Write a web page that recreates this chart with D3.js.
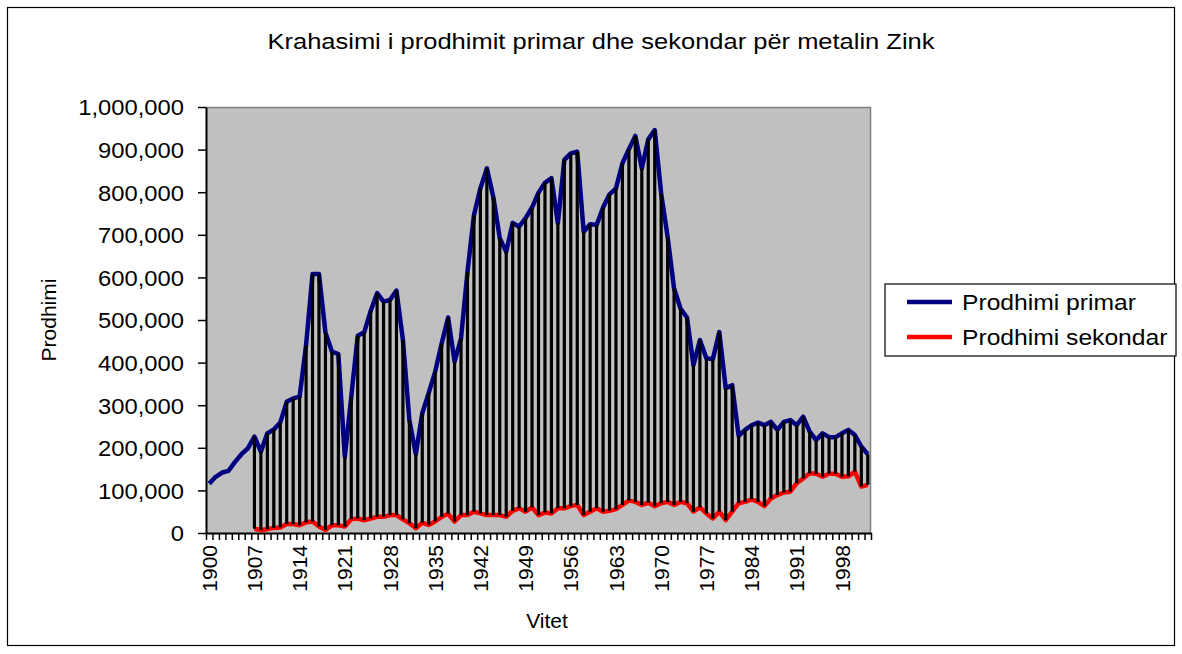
<!DOCTYPE html>
<html lang="sq">
<head>
<meta charset="UTF-8">
<title>Prodhimi i Zinkut</title>
<script src="https://d3js.org/d3.v7.min.js"></script>
<style>
  body { margin: 0; background: #fff; }
  text { font-family: "Liberation Sans", Arial, sans-serif; fill: #000; }
</style>
</head>
<body>
<div id="chart"></div>
<script>
// vitet 1900 - 2002
var years = d3.range(1900, 2003);

// prodhimi primar (ton)
var primar = [116000, 132000, 142000, 146000, 167000, 185000, 199000, 226000, 191000, 234000,
  243000, 259000, 308000, 316000, 320000, 441000, 608000, 608000, 471000, 426000,
  420000, 179000, 320000, 463000, 471000, 521000, 563000, 543000, 547000, 569000,
  453000, 265000, 185000, 281000, 329000, 379000, 445000, 506000, 402000, 457000,
  613000, 746000, 809000, 856000, 789000, 692000, 660000, 728000, 719000, 739000,
  764000, 799000, 822000, 833000, 727000, 876000, 891000, 895000, 707000, 725000,
  723000, 764000, 795000, 809000, 868000, 901000, 932000, 856000, 924000, 946000,
  797000, 695000, 574000, 527000, 506000, 394000, 453000, 410000, 408000, 472000,
  340000, 347000, 228000, 242000, 253000, 259000, 253000, 261000, 242000, 261000,
  265000, 253000, 273000, 238000, 218000, 234000, 225000, 225000, 234000, 242000,
  230000, 203000, 185000];

// prodhimi sekondar (ton), fillon ne 1907
var sekondar = [null, null, null, null, null, null, null, 10000, 7000, 9000,
  12000, 13000, 21000, 21000, 18000, 25000, 27000, 15000, 7000, 18000,
  18000, 15000, 32000, 34000, 30000, 34000, 38000, 38000, 42000, 42000,
  32000, 23000, 11000, 24000, 19000, 27000, 38000, 45000, 27000, 42000,
  42000, 50000, 46000, 42000, 42000, 42000, 38000, 52000, 58000, 50000,
  60000, 42000, 48000, 46000, 58000, 58000, 63000, 66000, 42000, 50000,
  58000, 50000, 52000, 56000, 66000, 76000, 73000, 66000, 71000, 63000,
  70000, 73000, 66000, 73000, 70000, 50000, 60000, 46000, 34000, 50000,
  30000, 50000, 70000, 73000, 79000, 73000, 63000, 81000, 89000, 95000,
  97000, 117000, 128000, 140000, 139000, 132000, 139000, 139000, 132000, 133000,
  144000, 109000, 113000];

var yTicks = d3.range(0, 1000001, 100000);
var xLabels = years.filter(function(y, i) { return i % 7 === 0; });

var width = 1182, height = 654;
var plotLeft = 206, plotRight = 871, plotTop = 107, plotBottom = 533;

var svg = d3.select("#chart").append("svg")
    .attr("width", width)
    .attr("height", height);

// teksti ne origjinal eshte pak i zgjeruar horizontalisht
function stretch(sel, k) {
  sel.each(function() {
    var w = this.getComputedTextLength();
    d3.select(this).attr("textLength", w * k).attr("lengthAdjust", "spacingAndGlyphs");
  });
}

// korniza e grafikut
svg.append("rect")
    .attr("x", 7.5).attr("y", 7.5)
    .attr("width", 1167).attr("height", 638)
    .attr("fill", "#fff").attr("stroke", "#000").attr("stroke-width", 1.2);

var x = d3.scaleBand().domain(years).range([plotLeft, plotRight]).paddingInner(0).paddingOuter(0);
var xEdge = d3.scaleLinear().domain([0, years.length]).range([plotLeft, plotRight]);
var y = d3.scaleLinear().domain([0, 1000000]).range([plotBottom, plotTop]);

function cx(d, i) { return x(years[i]) + x.bandwidth() / 2; }

// zona e grafikut
svg.append("rect")
    .attr("x", plotLeft).attr("y", plotTop)
    .attr("width", plotRight - plotLeft).attr("height", plotBottom - plotTop)
    .attr("fill", "#c0c0c0");
svg.append("path")
    .attr("d", "M" + plotLeft + "," + (plotTop + 0.5) + "H" + (plotRight - 0.5) + "V" + plotBottom)
    .attr("fill", "none").attr("stroke", "#808080").attr("stroke-width", 1.5);

// boshti Y
var yAxis = svg.append("g")
    .attr("transform", "translate(" + plotLeft + ",0)")
    .call(d3.axisLeft(y).tickValues(yTicks).tickFormat(d3.format(",")).tickSize(8).tickSizeOuter(0).tickPadding(14));
yAxis.select(".domain").attr("stroke-width", 2);
yAxis.selectAll("line").attr("stroke-width", 1.5);
yAxis.selectAll("text").style("font-size", "22px").attr("dy", "0.36em").call(stretch, 1.08);

// boshti X: vija te vogla per cdo vit
var xMinor = svg.append("g")
    .attr("transform", "translate(0," + plotBottom + ")")
    .call(d3.axisBottom(xEdge).tickValues(d3.range(0, years.length + 1)).tickFormat("").tickSize(7).tickSizeOuter(0));
xMinor.select(".domain").attr("stroke-width", 2);
xMinor.selectAll("line").attr("stroke-width", 1.5);

var xAxis = svg.append("g")
    .attr("transform", "translate(0," + plotBottom + ")")
    .call(d3.axisBottom(x).tickValues(xLabels).tickSize(0).tickPadding(0));
xAxis.select(".domain").remove();
xAxis.selectAll("text")
    .style("font-size", "21px")
    .attr("text-anchor", "end")
    .attr("transform", "translate(0,12) rotate(-90)")
    .attr("x", 0).attr("y", 0).attr("dy", "0.36em");

// linjat
var linePrimar = d3.line().x(cx).y(function(d) { return y(d); });
var lineSekondar = d3.line().defined(function(d) { return d !== null; }).x(cx).y(function(d) { return y(d); });

svg.append("path").datum(primar)
    .attr("d", linePrimar)
    .attr("fill", "none").attr("stroke", "#000080").attr("stroke-width", 4.5)
    .attr("stroke-linejoin", "round");
svg.append("path").datum(sekondar)
    .attr("d", lineSekondar)
    .attr("fill", "none").attr("stroke", "#ff0000").attr("stroke-width", 4.5)
    .attr("stroke-linejoin", "round");

// vijat high-low
svg.append("g").selectAll("line")
    .data(years.map(function(yr, i) { return { i: i, hi: primar[i], lo: sekondar[i] }; })
        .filter(function(d) { return d.lo !== null; }))
    .enter().append("line")
    .attr("x1", function(d) { return cx(null, d.i); })
    .attr("x2", function(d) { return cx(null, d.i); })
    .attr("y1", function(d) { return y(d.hi); })
    .attr("y2", function(d) { return y(d.lo); })
    .attr("stroke", "#000").attr("stroke-width", 3.2);

// titujt
svg.append("text")
    .attr("x", 601).attr("y", 49)
    .attr("text-anchor", "middle")
    .style("font-size", "22px")
    .attr("textLength", 667).attr("lengthAdjust", "spacingAndGlyphs")
    .text("Krahasimi i prodhimit primar dhe sekondar për metalin Zink");

svg.append("text")
    .attr("transform", "translate(56,320) rotate(-90)")
    .attr("text-anchor", "middle")
    .style("font-size", "21px")
    .text("Prodhimi");

svg.append("text")
    .attr("x", 547).attr("y", 628)
    .attr("text-anchor", "middle")
    .style("font-size", "21px")
    .text("Vitet");

// legjenda
var legend = svg.append("g");
legend.append("rect")
    .attr("x", 885).attr("y", 284)
    .attr("width", 291).attr("height", 72)
    .attr("fill", "#fff").attr("stroke", "#000").attr("stroke-width", 1.2);

var legendItems = [
  { name: "Prodhimi primar", color: "#000080" },
  { name: "Prodhimi sekondar", color: "#ff0000" }
];
var li = legend.selectAll("g.item").data(legendItems).enter().append("g")
    .attr("class", "item")
    .attr("transform", function(d, i) { return "translate(0," + (302 + i * 35) + ")"; });
li.append("line")
    .attr("x1", 907).attr("x2", 952)
    .attr("stroke", function(d) { return d.color; })
    .attr("stroke-width", 4.5);
li.append("text")
    .attr("x", 962).attr("dy", "0.36em")
    .style("font-size", "22px")
    .text(function(d) { return d.name; })
    .call(stretch, 1.12);
</script>
</body>
</html>
